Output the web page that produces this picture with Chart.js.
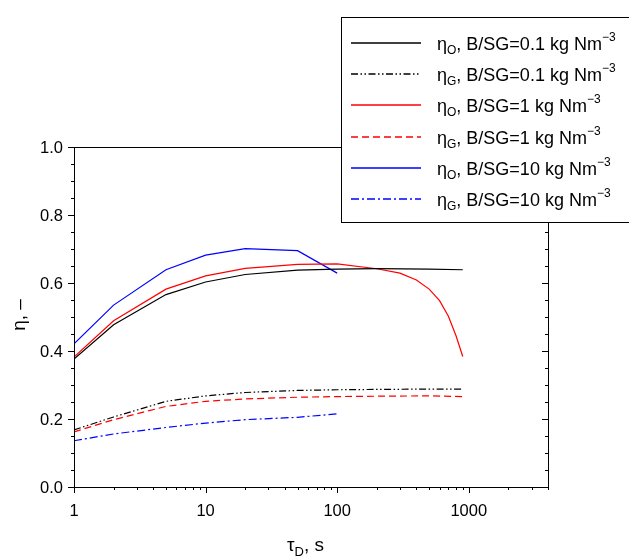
<!DOCTYPE html>
<html>
<head>
<meta charset="utf-8">
<script src="https://cdn.jsdelivr.net/npm/chart.js@4/dist/chart.umd.min.js"></script>
<style>
  body { margin: 0; background: #fff; }
  canvas { display: block; }
</style>
</head>
<body>
<canvas id="etaChart" width="629" height="557"></canvas>
<script>
// residence time, s
const tauLong = [1, 2, 5, 10, 20, 50, 100, 200, 500, 900];
const tauRed = [1, 2, 5, 10, 20, 50, 100, 200, 300, 400, 500, 600, 700, 800, 900];
const tauBlue = [1, 2, 5, 10, 20, 50, 100];

// B/SG = 0.1
const etaO_01 = [0.376, 0.477, 0.566, 0.603, 0.625, 0.638, 0.641, 0.642, 0.641, 0.639];
const etaG_01 = [0.168, 0.206, 0.252, 0.268, 0.278, 0.284, 0.286, 0.287, 0.288, 0.288];
// B/SG = 1
const etaO_1 = [0.382, 0.489, 0.582, 0.621, 0.643, 0.655, 0.656, 0.642, 0.629, 0.609, 0.582, 0.548, 0.502, 0.445, 0.384];
const etaG_1 = [0.162, 0.198, 0.237, 0.252, 0.259, 0.264, 0.266, 0.267, 0.268, 0.266];
// B/SG = 10
const etaO_10 = [0.421, 0.535, 0.639, 0.682, 0.701, 0.695, 0.629];
const etaG_10 = [0.136, 0.156, 0.175, 0.188, 0.198, 0.205, 0.215];

const legendSub = ['O', 'G', 'O', 'G', 'O', 'G'];
const legendBSG = ['0.1', '0.1', '1', '1', '10', '10'];

const yTickLabels = ['0.0', '0.2', '0.4', '0.6', '0.8', '1.0'];
const xTickLabels = ['1', '10', '100', '1000'];

const colors = ['#000000', '#000000', '#ff0000', '#ff0000', '#0000ff', '#0000ff'];
const dashes = [[], [7, 2.5, 1.5, 2.5, 1.5, 2.5], [], [7, 4], [], [8, 3, 2, 3]];

function pts(xs, ys) {
  return xs.map((x, i) => ({ x: x, y: ys[i] }));
}

function series(label, xs, ys, i) {
  return {
    label: label,
    data: pts(xs, ys),
    borderColor: colors[i],
    borderWidth: 1.2,
    borderDash: dashes[i],
    pointRadius: 0,
    fill: false,
    tension: 0
  };
}

const datasets = [
  series('etaO 0.1', tauLong, etaO_01, 0),
  series('etaG 0.1', tauLong, etaG_01, 1),
  series('etaO 1', tauRed, etaO_1, 2),
  series('etaG 1', tauLong, etaG_1, 3),
  series('etaO 10', tauBlue, etaO_10, 4),
  series('etaG 10', tauBlue, etaG_10, 5)
];

const FONT = '"Liberation Sans", Arial, sans-serif';

// frame, ticks, axis titles and the boxed legend
const framePlugin = {
  id: 'frame',
  afterDraw(chart) {
    const ctx = chart.ctx;
    const a = chart.chartArea;
    const xs = chart.scales.x;
    const ys = chart.scales.y;
    ctx.save();
    ctx.strokeStyle = '#000';
    ctx.lineWidth = 1;
    ctx.setLineDash([]);
    ctx.strokeRect(Math.round(a.left) + 0.5, Math.round(a.top) + 0.5,
      Math.round(a.right - a.left), Math.round(a.bottom - a.top));

    // y ticks: outward on left, inward on right
    for (let i = 0; i <= 20; i++) {
      const v = i * 0.05;
      const py = Math.round(ys.getPixelForValue(v)) + 0.5;
      const len = (i % 4 === 0) ? 6 : 3;
      ctx.beginPath();
      ctx.moveTo(a.left, py); ctx.lineTo(a.left - len, py);
      ctx.moveTo(a.right, py); ctx.lineTo(a.right - len, py);
      ctx.stroke();
    }
    // x ticks: outward on bottom
    for (let d = 1; d <= 1000; d *= 10) {
      for (let m = 1; m <= 9; m++) {
        const v = d * m;
        if (v > 4000) break;
        const px = Math.round(xs.getPixelForValue(v)) + 0.5;
        const len = m === 1 ? 6 : 3;
        ctx.beginPath();
        ctx.moveTo(px, a.bottom); ctx.lineTo(px, a.bottom + len);
        ctx.stroke();
      }
    }

    // tick labels
    ctx.fillStyle = '#000';
    ctx.font = '16.5px ' + FONT;
    ctx.textAlign = 'right';
    ctx.textBaseline = 'middle';
    yTickLabels.forEach(t => {
      ctx.fillText(t, a.left - 11, ys.getPixelForValue(parseFloat(t)) + 1);
    });
    ctx.textAlign = 'center';
    ctx.textBaseline = 'top';
    xTickLabels.forEach(t => {
      ctx.fillText(t, xs.getPixelForValue(parseFloat(t)), a.bottom + 16);
    });

    // x title: tau_D, s
    ctx.textAlign = 'left';
    ctx.textBaseline = 'alphabetic';
    const xt = 287, yt = 551;
    ctx.font = '19px ' + FONT;
    ctx.fillText('\u03C4', xt, yt);
    let w = ctx.measureText('\u03C4').width;
    ctx.font = '13px ' + FONT;
    ctx.fillText('D', xt + w, yt + 5);
    w += ctx.measureText('D').width;
    ctx.font = '19px ' + FONT;
    ctx.fillText(', s', xt + w, yt);

    // y title
    ctx.save();
    ctx.translate(25, 315);
    ctx.rotate(-Math.PI / 2);
    ctx.textAlign = 'center';
    ctx.font = '19px ' + FONT;
    ctx.fillText('\u03B7, \u2013', 0, 0);
    ctx.restore();

    // legend box
    const lx = 341, ly = 17, lh = 205;
    ctx.fillStyle = '#fff';
    ctx.fillRect(lx, ly, 629 - lx + 5, lh);
    ctx.strokeStyle = '#000';
    ctx.lineWidth = 1;
    ctx.strokeRect(lx + 0.5, ly + 0.5, 629 - lx + 5, lh);

    legendSub.forEach((sub, i) => {
      const ry = 43 + i * 31.2;
      ctx.save();
      ctx.strokeStyle = colors[i];
      ctx.lineWidth = 1.4;
      ctx.setLineDash(dashes[i]);
      ctx.beginPath();
      ctx.moveTo(351, Math.round(ry));
      ctx.lineTo(421, Math.round(ry));
      ctx.stroke();
      ctx.restore();

      ctx.fillStyle = '#000';
      ctx.textAlign = 'left';
      ctx.textBaseline = 'alphabetic';
      let tx = 437;
      const base = ry + 7;
      ctx.font = '18px ' + FONT;
      ctx.fillText('\u03B7', tx, base);
      tx += ctx.measureText('\u03B7').width;
      ctx.font = '12px ' + FONT;
      ctx.fillText(sub, tx, base + 4);
      tx += ctx.measureText(sub).width;
      ctx.font = '18px ' + FONT;
      const main = ', B/SG=' + legendBSG[i] + ' kg Nm';
      ctx.fillText(main, tx, base);
      tx += ctx.measureText(main).width;
      ctx.font = '12px ' + FONT;
      ctx.fillText('\u22123', tx, base - 9);
    });
    ctx.restore();
  }
};

const ctxEta = document.getElementById('etaChart').getContext('2d');
const etaChart = new Chart(ctxEta, {
  type: 'line',
  data: { datasets: datasets },
  options: {
    responsive: false,
    animation: false,
    layout: { padding: { left: 74, right: 81, top: 147, bottom: 70 } },
    plugins: { legend: { display: false }, tooltip: { enabled: false } },
    scales: {
      x: { type: 'logarithmic', min: 1, max: 4000, display: false },
      y: { type: 'linear', min: 0, max: 1, display: false }
    }
  },
  plugins: [framePlugin]
});
</script>
</body>
</html>
